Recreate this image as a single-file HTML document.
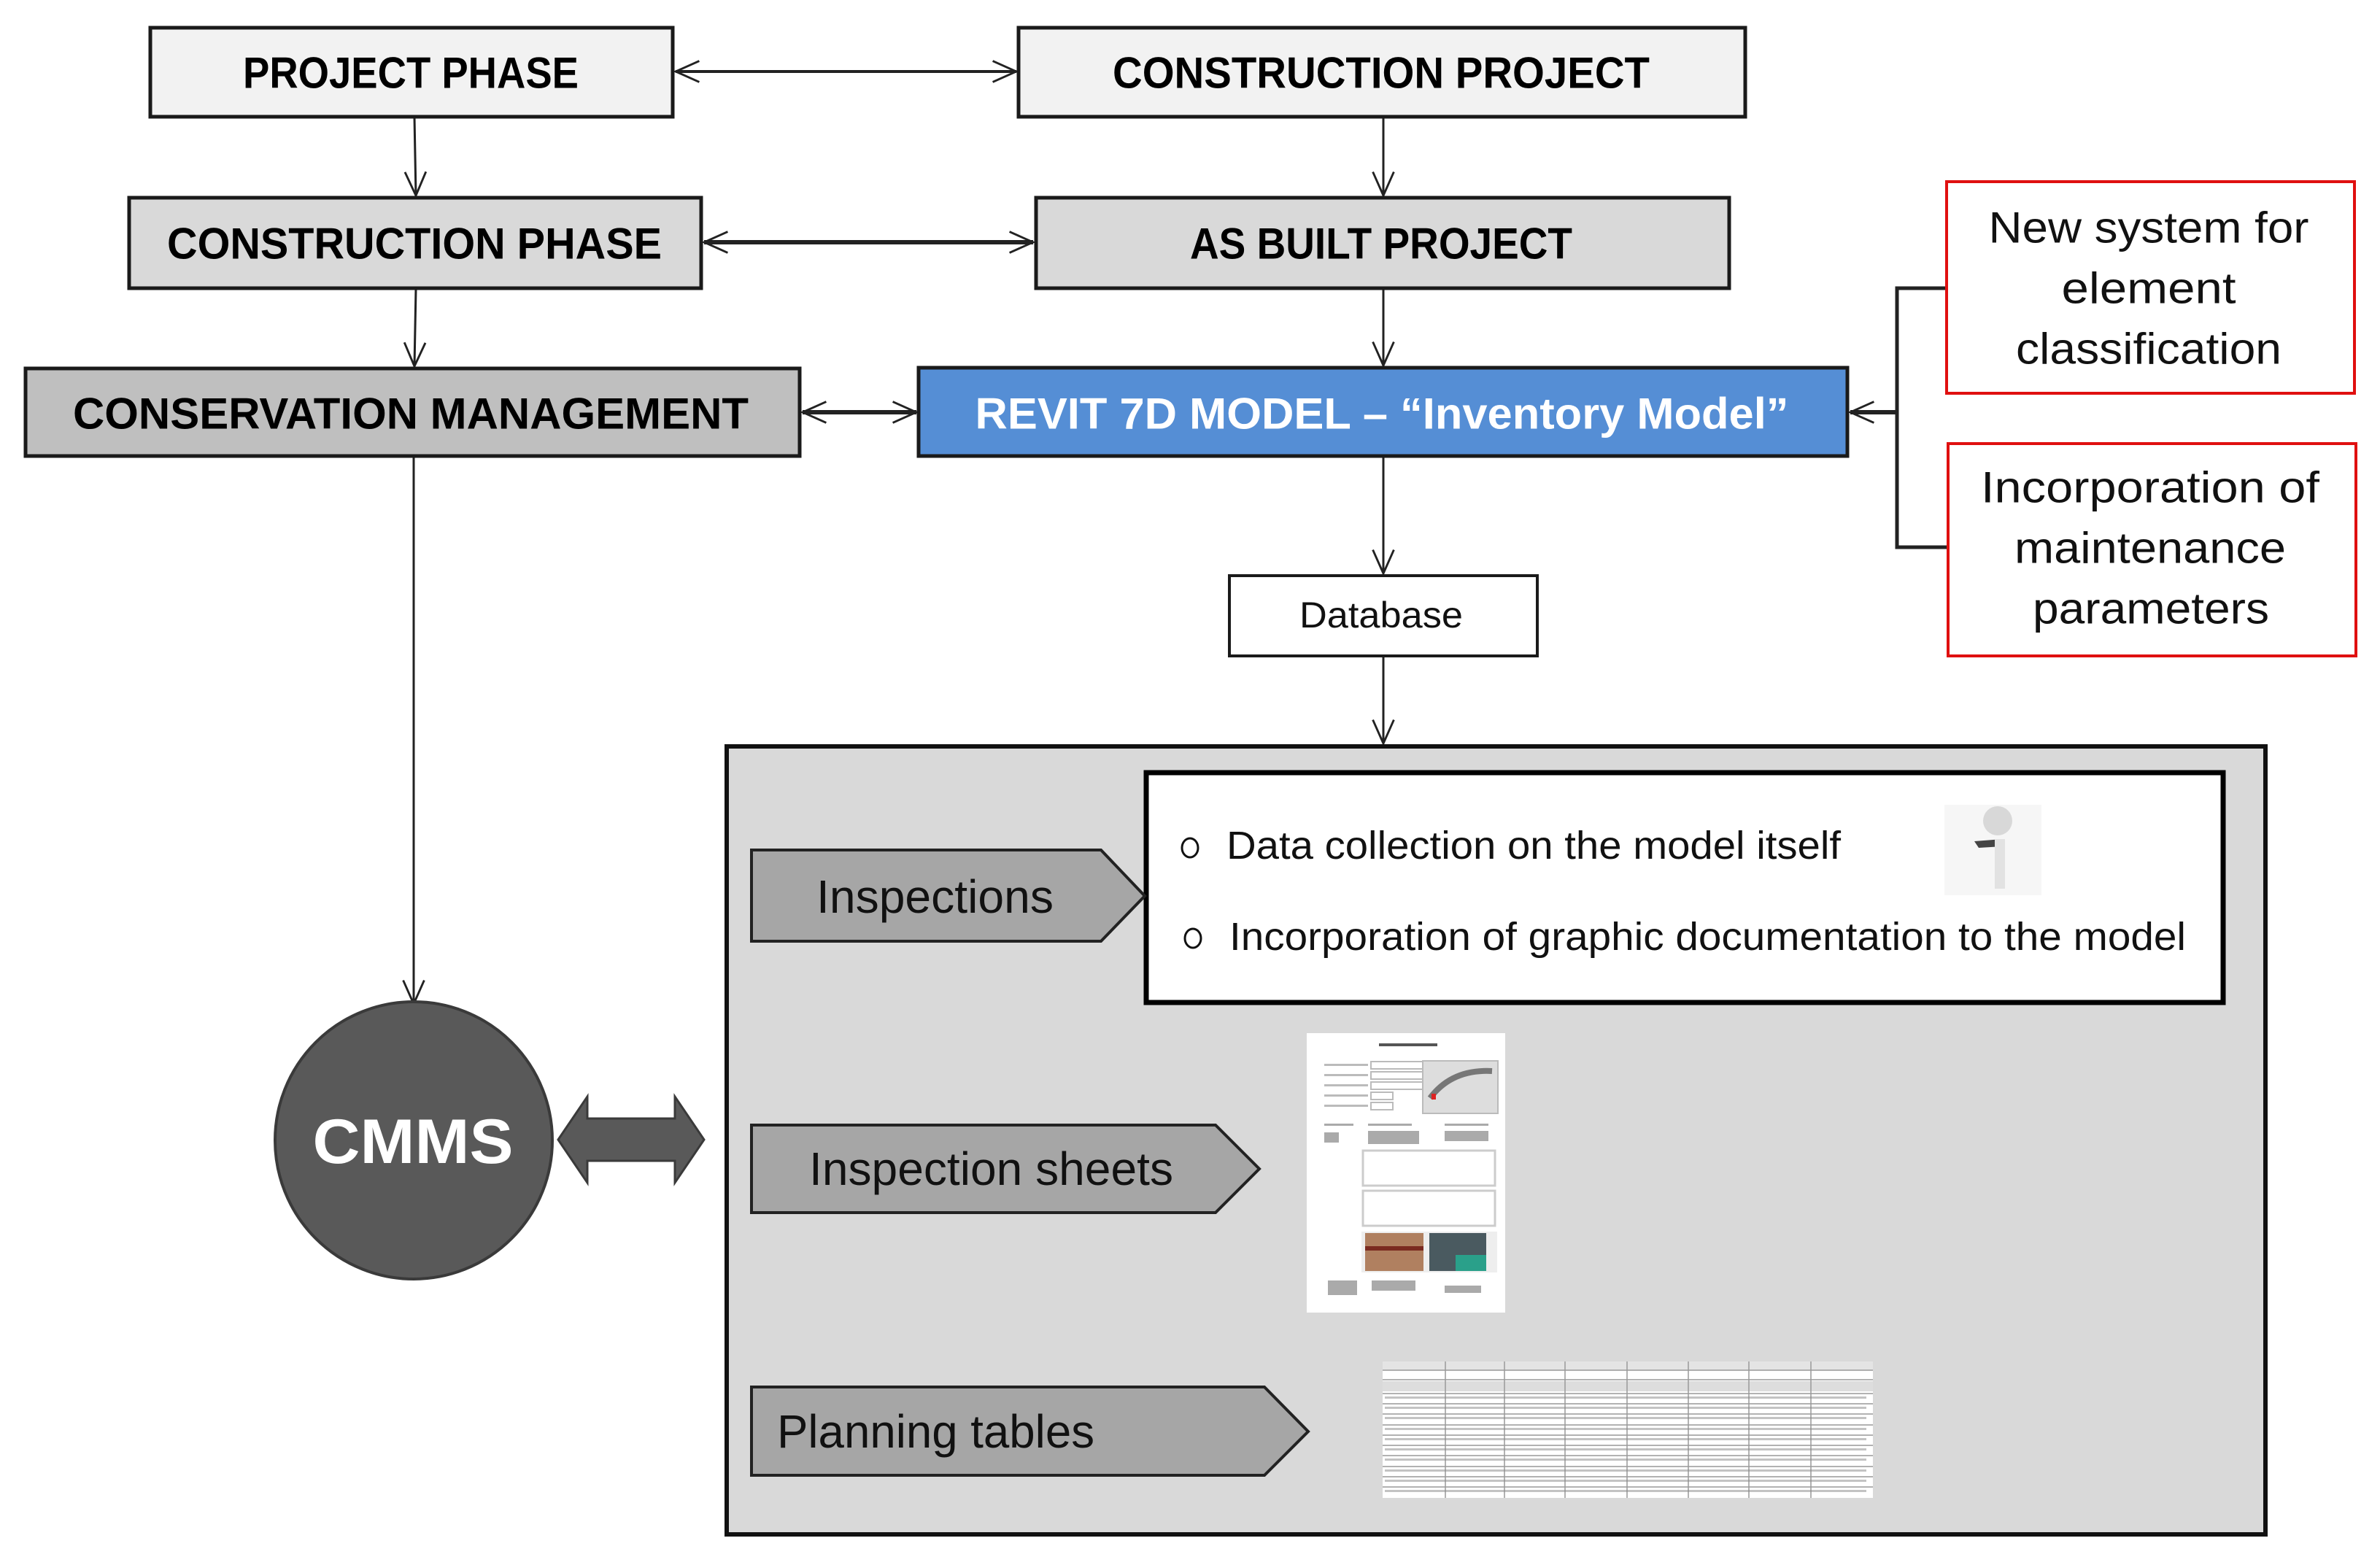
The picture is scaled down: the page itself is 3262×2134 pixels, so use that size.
<!DOCTYPE html>
<html><head><meta charset="utf-8"><style>html,body{margin:0;padding:0;background:#fff}svg{display:block}</style></head>
<body>
<svg width="3262" height="2134" viewBox="0 0 3262 2134" xmlns="http://www.w3.org/2000/svg" font-family="Liberation Sans, sans-serif">
<defs>
<marker id="a" viewBox="0 0 20 20" refX="19" refY="10" markerWidth="36" markerHeight="36" markerUnits="userSpaceOnUse" orient="auto-start-reverse">
<path d="M1 2 L19 10 L1 18" fill="none" stroke="#222" stroke-width="1.6"/>
</marker>
</defs>
<!-- connectors -->
<g stroke="#222" fill="none">
<line x1="926" y1="98" x2="1393" y2="98" stroke-width="4" marker-start="url(#a)" marker-end="url(#a)"/>
<line x1="965" y1="332" x2="1416" y2="332" stroke-width="6" marker-start="url(#a)" marker-end="url(#a)"/>
<line x1="1100" y1="565" x2="1256" y2="565" stroke-width="6" marker-start="url(#a)" marker-end="url(#a)"/>
<line x1="568" y1="160" x2="570" y2="268" stroke-width="3" marker-end="url(#a)"/>
<line x1="1896" y1="160" x2="1896" y2="268" stroke-width="3" marker-end="url(#a)"/>
<line x1="570" y1="396" x2="568" y2="502" stroke-width="3" marker-end="url(#a)"/>
<line x1="1896" y1="396" x2="1896" y2="501" stroke-width="3" marker-end="url(#a)"/>
<line x1="1896" y1="626" x2="1896" y2="786" stroke-width="3" marker-end="url(#a)"/>
<line x1="1896" y1="901" x2="1896" y2="1019" stroke-width="3" marker-end="url(#a)"/>
<line x1="567" y1="626" x2="567" y2="1376" stroke-width="3" marker-end="url(#a)"/>
<polyline points="2668,395 2600,395 2600,750 2668,750" stroke-width="5"/>
<line x1="2600" y1="565" x2="2536" y2="565" stroke-width="6" marker-end="url(#a)"/>
</g>
<!-- top boxes -->
<g stroke="#1a1a1a" stroke-width="5">
<rect x="206" y="38" width="716" height="122" fill="#f2f2f2"/>
<rect x="1396" y="38" width="996" height="122" fill="#f2f2f2"/>
<rect x="177" y="271" width="784" height="124" fill="#d9d9d9"/>
<rect x="1420" y="271" width="950" height="124" fill="#d9d9d9"/>
<rect x="35" y="505" width="1061" height="120" fill="#bfbfbf"/>
<rect x="1259" y="504" width="1273" height="121" fill="#558ed5"/>
<rect x="1685" y="789" width="422" height="110" fill="#fff" stroke-width="4"/>
</g>
<g stroke="#e01010" stroke-width="4" fill="#fff">
<rect x="2668" y="249" width="559" height="290"/>
<rect x="2670" y="608" width="559" height="291"/>
</g>
<g font-weight="bold" font-size="60" dominant-baseline="central" text-anchor="middle" fill="#000">
<text x="563" y="100" textLength="460" lengthAdjust="spacingAndGlyphs">PROJECT PHASE</text>
<text x="1893" y="100" textLength="736" lengthAdjust="spacingAndGlyphs">CONSTRUCTION PROJECT</text>
<text x="568" y="334" textLength="678" lengthAdjust="spacingAndGlyphs">CONSTRUCTION PHASE</text>
<text x="1893" y="334" textLength="524" lengthAdjust="spacingAndGlyphs">AS BUILT PROJECT</text>
<text x="563" y="567" textLength="926" lengthAdjust="spacingAndGlyphs">CONSERVATION MANAGEMENT</text>
<text x="1894" y="567" textLength="1115" lengthAdjust="spacingAndGlyphs" fill="#fff">REVIT 7D MODEL – “Inventory Model”</text>
</g>
<g font-size="60" dominant-baseline="central" text-anchor="middle" fill="#111">
<text x="2945" y="312" textLength="439" lengthAdjust="spacingAndGlyphs">New system for</text>
<text x="2945" y="395" textLength="239" lengthAdjust="spacingAndGlyphs">element</text>
<text x="2945" y="478" textLength="364" lengthAdjust="spacingAndGlyphs">classification</text>
<text x="2947" y="668" textLength="464" lengthAdjust="spacingAndGlyphs">Incorporation of</text>
<text x="2947" y="751" textLength="372" lengthAdjust="spacingAndGlyphs">maintenance</text>
<text x="2948" y="834" textLength="324" lengthAdjust="spacingAndGlyphs">parameters</text>
<text x="1893" y="843" font-size="50" textLength="224" lengthAdjust="spacingAndGlyphs">Database</text>
</g>
<!-- big box -->
<rect x="996" y="1023" width="2109" height="1080" fill="#d9d9d9" stroke="#111" stroke-width="6"/>
<rect x="1571" y="1059" width="1476" height="315" fill="#fff" stroke="#000" stroke-width="7"/>
<g fill="#a6a6a6" stroke="#222" stroke-width="4">
<polygon points="1030,1165 1509,1165 1569,1228 1509,1290 1030,1290"/>
<polygon points="1030,1542 1666,1542 1726,1602 1666,1662 1030,1662"/>
<polygon points="1030,1901 1733,1901 1793,1962 1733,2022 1030,2022"/>
</g>
<g font-size="64" dominant-baseline="central" fill="#111">
<text x="1119" y="1229" textLength="325" lengthAdjust="spacingAndGlyphs">Inspections</text>
<text x="1109" y="1602" textLength="499" lengthAdjust="spacingAndGlyphs">Inspection sheets</text>
<text x="1065" y="1962" textLength="435" lengthAdjust="spacingAndGlyphs">Planning tables</text>
</g>
<g fill="none" stroke="#111" stroke-width="3">
<ellipse cx="1631" cy="1162" rx="11" ry="13"/>
<ellipse cx="1635" cy="1286" rx="11" ry="13"/>
</g>
<g font-size="54" dominant-baseline="central" fill="#111">
<text x="1681" y="1159" textLength="842" lengthAdjust="spacingAndGlyphs">Data collection on the model itself</text>
<text x="1685" y="1284" textLength="1311" lengthAdjust="spacingAndGlyphs">Incorporation of graphic documentation to the model</text>
</g>
<!-- figure -->
<rect x="2665" y="1103" width="133" height="124" fill="#f6f6f6"/>
<circle cx="2738" cy="1125" r="20" fill="#d8d8d8"/>
<path d="M2706 1153 L2745 1150 L2745 1160 L2712 1162 Z" fill="#444"/>
<rect x="2734" y="1150" width="14" height="68" fill="#e2e2e2"/>
<!-- CMMS -->
<circle cx="567" cy="1563" r="190" fill="#595959" stroke="#3a3a3a" stroke-width="4"/>
<text x="566" y="1565" font-size="86" font-weight="bold" fill="#fff" text-anchor="middle" dominant-baseline="central" textLength="275" lengthAdjust="spacingAndGlyphs">CMMS</text>
<polygon points="765,1562 805,1503 805,1533 925,1533 925,1503 965,1562 925,1621 925,1591 805,1591 805,1621" fill="#595959" stroke="#3a3a3a" stroke-width="3"/>
<!-- inspection sheet image -->
<g>
<rect x="1791" y="1416" width="272" height="383" fill="#fff"/>
<rect x="1890" y="1430" width="80" height="4" fill="#555"/>
<g fill="#bbb"><rect x="1815" y="1458" width="60" height="3"/><rect x="1815" y="1472" width="60" height="3"/><rect x="1815" y="1486" width="60" height="3"/><rect x="1815" y="1500" width="60" height="3"/><rect x="1815" y="1514" width="60" height="3"/></g>
<g fill="none" stroke="#bbb" stroke-width="2"><rect x="1879" y="1455" width="80" height="10"/><rect x="1879" y="1469" width="80" height="10"/><rect x="1879" y="1483" width="80" height="10"/><rect x="1879" y="1497" width="30" height="10"/><rect x="1879" y="1511" width="30" height="10"/></g>
<rect x="1950" y="1454" width="103" height="72" fill="#ddd" stroke="#bbb" stroke-width="2"/>
<path d="M1960 1505 Q1990 1465 2045 1468" stroke="#777" stroke-width="8" fill="none"/>
<rect x="1962" y="1499" width="6" height="8" fill="#d22"/>
<g fill="#aaa"><rect x="1815" y="1540" width="40" height="3"/><rect x="1875" y="1540" width="60" height="3"/><rect x="1980" y="1540" width="60" height="3"/><rect x="1815" y="1552" width="20" height="14"/><rect x="1875" y="1550" width="70" height="18"/><rect x="1980" y="1550" width="60" height="14"/></g>
<rect x="1868" y="1577" width="181" height="48" fill="#fff" stroke="#ccc" stroke-width="3"/>
<rect x="1868" y="1632" width="181" height="48" fill="#fff" stroke="#ccc" stroke-width="3"/>
<rect x="1866" y="1688" width="186" height="56" fill="#eee"/>
<rect x="1871" y="1690" width="80" height="52" fill="#b08060"/>
<rect x="1871" y="1708" width="80" height="6" fill="#7a2a20"/>
<rect x="1959" y="1690" width="78" height="52" fill="#4a5a60"/>
<rect x="1995" y="1720" width="42" height="22" fill="#2aa08a"/>
<g fill="#aaa"><rect x="1820" y="1755" width="40" height="20"/><rect x="1880" y="1755" width="60" height="14"/><rect x="1980" y="1762" width="50" height="10"/></g>
</g>
<!-- table image -->
<g>
<rect x="1895" y="1866" width="672" height="187" fill="#fff"/>
<rect x="1895" y="1866" width="672" height="12" fill="#e4e4e4"/>
<rect x="1895" y="1893" width="672" height="14" fill="#ddd"/>
<g stroke="#999" stroke-width="1.5">
<line x1="1895" y1="1878" x2="2567" y2="1878"/><line x1="1895" y1="1891" x2="2567" y2="1891"/>
<line x1="1895" y1="1910" x2="2567" y2="1910"/><line x1="1895" y1="1924" x2="2567" y2="1924"/><line x1="1895" y1="1938" x2="2567" y2="1938"/><line x1="1895" y1="1953" x2="2567" y2="1953"/><line x1="1895" y1="1967" x2="2567" y2="1967"/><line x1="1895" y1="1981" x2="2567" y2="1981"/><line x1="1895" y1="1995" x2="2567" y2="1995"/><line x1="1895" y1="2010" x2="2567" y2="2010"/><line x1="1895" y1="2024" x2="2567" y2="2024"/><line x1="1895" y1="2038" x2="2567" y2="2038"/>
<line x1="1981" y1="1866" x2="1981" y2="2053"/><line x1="2062" y1="1866" x2="2062" y2="2053"/><line x1="2145" y1="1866" x2="2145" y2="2053"/><line x1="2230" y1="1866" x2="2230" y2="2053"/><line x1="2314" y1="1866" x2="2314" y2="2053"/><line x1="2397" y1="1866" x2="2397" y2="2053"/><line x1="2482" y1="1866" x2="2482" y2="2053"/>
</g>
<g fill="#888">
<rect x="1898" y="1914" width="660" height="3" opacity="0.5"/><rect x="1898" y="1928" width="660" height="3" opacity="0.5"/><rect x="1898" y="1942" width="660" height="3" opacity="0.5"/><rect x="1898" y="1957" width="660" height="3" opacity="0.5"/><rect x="1898" y="1971" width="660" height="3" opacity="0.5"/><rect x="1898" y="1985" width="660" height="3" opacity="0.5"/><rect x="1898" y="1999" width="660" height="3" opacity="0.5"/><rect x="1898" y="2014" width="660" height="3" opacity="0.5"/><rect x="1898" y="2028" width="660" height="3" opacity="0.5"/><rect x="1898" y="2042" width="660" height="3" opacity="0.5"/>
</g>
</g>
</svg>
</body></html>
